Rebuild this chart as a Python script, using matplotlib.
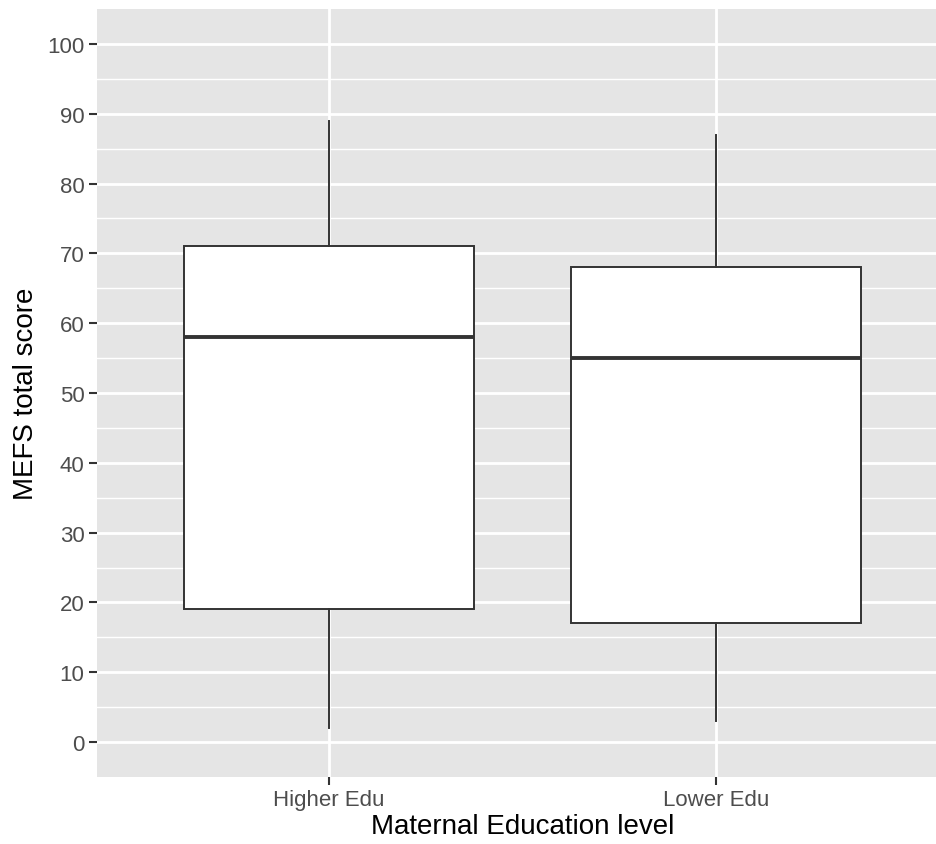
import matplotlib
matplotlib.use("Agg")
import matplotlib.pyplot as plt

# Summary statistics of MEFS total score by maternal education group
groups = ["Higher Edu", "Lower Edu"]
whisker_low = [2, 3]
q1 = [19, 17]
median = [58, 55]
q3 = [71, 68]
whisker_high = [89, 87]

y_ticks = [0, 10, 20, 30, 40, 50, 60, 70, 80, 90, 100]

plt.rcParams["font.family"] = ["Liberation Sans", "DejaVu Sans"]

fig = plt.figure(figsize=(9.36, 8.45), dpi=100)
# panel runs slightly past the right edge of the canvas
ax = fig.add_axes([97 / 936, 67 / 845, (948 - 97) / 936, 768 / 845])
ax.set_facecolor("#E5E5E5")

stats = []
for i, g in enumerate(groups):
    stats.append(dict(label=g, whislo=whisker_low[i], q1=q1[i], med=median[i],
                      q3=q3[i], whishi=whisker_high[i], fliers=[]))

ax.bxp(stats, positions=[1, 2], widths=0.75, patch_artist=True, showcaps=False,
       boxprops=dict(facecolor="white", edgecolor="#333333", linewidth=1.4),
       whiskerprops=dict(color="#333333", linewidth=1.4),
       medianprops=dict(color="#333333", linewidth=2.8, solid_capstyle="butt"),
       zorder=3)

ax.set_xlim(0.4, 2.6)
ax.set_ylim(-5, 105)
ax.set_yticks(y_ticks)
ax.set_yticks([v + 5 for v in y_ticks[:-1]], minor=True)
ax.set_xticks([1, 2])
ax.set_xticklabels(groups)

ax.grid(which="major", color="white", linewidth=2.0, zorder=0)
ax.grid(which="minor", axis="y", color="white", linewidth=1.0, zorder=0)
ax.set_axisbelow(True)
for s in ax.spines.values():
    s.set_visible(False)

ax.tick_params(axis="both", which="major", length=5.5, width=1.5, color="#333333",
               labelcolor="#4D4D4D", labelsize=16, pad=3.5)
ax.tick_params(axis="both", which="minor", length=0)

ax.set_xlabel("Maternal Education level", fontsize=20, color="black", labelpad=2)
ax.set_ylabel("MEFS total score", fontsize=20, color="black", labelpad=6)

fig.savefig("out.png", dpi=100)
